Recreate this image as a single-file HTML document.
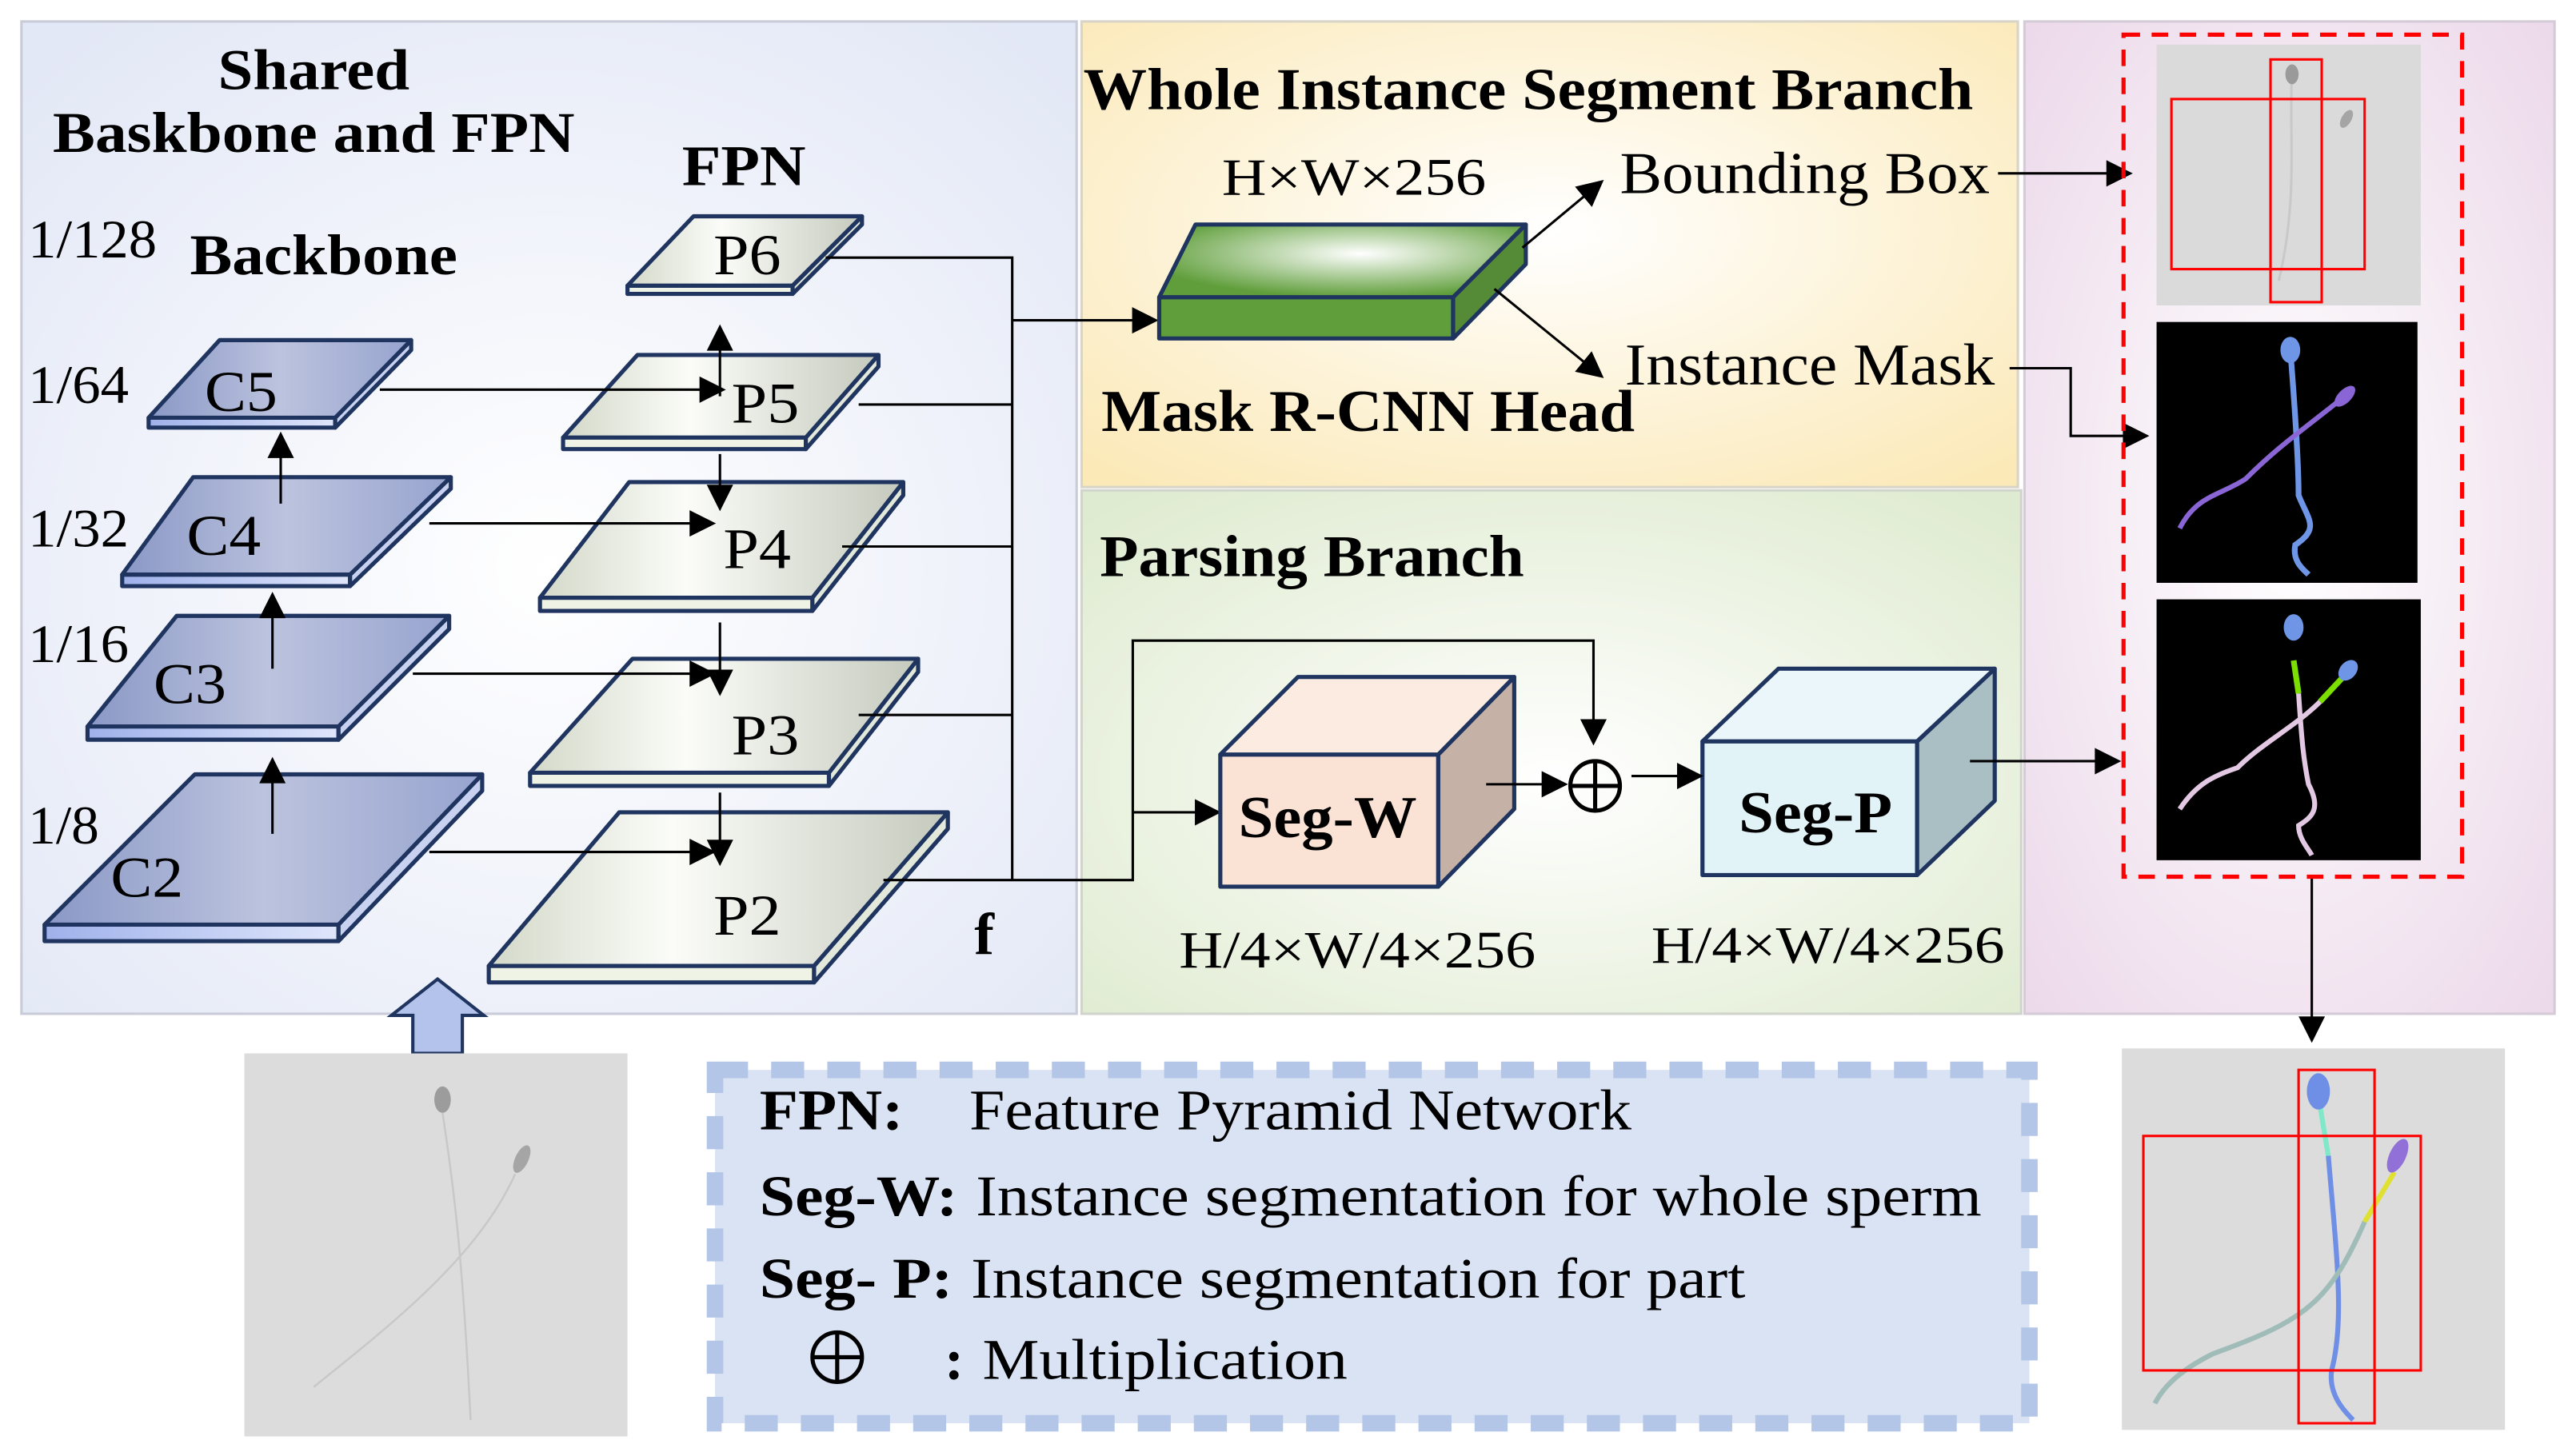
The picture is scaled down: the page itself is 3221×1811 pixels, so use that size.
<!DOCTYPE html>
<html><head><meta charset="utf-8"><style>
html,body{margin:0;padding:0;background:#fff;}
svg{display:block;}
text{font-family:"Liberation Serif",serif;fill:#000;}
.b{font-weight:bold;}
</style></head><body>
<svg width="3221" height="1811" viewBox="0 0 1560 877" preserveAspectRatio="none" xmlns="http://www.w3.org/2000/svg">
<defs>
<radialGradient id="gl" cx="0.5" cy="0.55" r="0.7"><stop offset="0" stop-color="#ffffff"/><stop offset="1" stop-color="#e3e8f6"/></radialGradient>
<radialGradient id="gy" cx="0.5" cy="0.45" r="0.7"><stop offset="0" stop-color="#ffffff"/><stop offset="1" stop-color="#fbe9b8"/></radialGradient>
<radialGradient id="gg" cx="0.5" cy="0.55" r="0.7"><stop offset="0" stop-color="#ffffff"/><stop offset="1" stop-color="#dfebd0"/></radialGradient>
<radialGradient id="gp" cx="0.5" cy="0.5" r="0.7"><stop offset="0" stop-color="#ffffff"/><stop offset="1" stop-color="#ecd9ea"/></radialGradient>
<linearGradient id="gc" x1="0" y1="0" x2="1" y2="0"><stop offset="0" stop-color="#8a98c6"/><stop offset="0.5" stop-color="#bcc3de"/><stop offset="1" stop-color="#97a4cf"/></linearGradient>
<linearGradient id="gcs" x1="0" y1="0" x2="1" y2="0"><stop offset="0" stop-color="#9fb1ea"/><stop offset="1" stop-color="#dfe6fb"/></linearGradient>
<linearGradient id="gpf" x1="0" y1="0" x2="1" y2="0"><stop offset="0" stop-color="#d3d9c9"/><stop offset="0.4" stop-color="#fbfcf8"/><stop offset="1" stop-color="#c5cabd"/></linearGradient>
<radialGradient id="ggr" cx="0.55" cy="0.4" r="0.6"><stop offset="0" stop-color="#ffffff"/><stop offset="1" stop-color="#5f9e3a"/></radialGradient>
<marker id="A" viewBox="0 0 10 10" refX="9" refY="5" markerWidth="18" markerHeight="16" orient="auto" markerUnits="userSpaceOnUse"><path d="M0,0L10,5L0,10z" fill="#000"/></marker>
</defs>

<rect x="13" y="13" width="639" height="601" fill="url(#gl)" stroke="#c9ccd8" stroke-width="1.5"/>
<rect x="655" y="13" width="567" height="282" fill="url(#gy)" stroke="#d8d4c8" stroke-width="1.5"/>
<rect x="655" y="297" width="569" height="317" fill="url(#gg)" stroke="#d0d4cc" stroke-width="1.5"/>
<rect x="1226" y="13" width="321" height="601" fill="url(#gp)" stroke="#d4cbd6" stroke-width="1.5"/>

<g lengthAdjust="spacingAndGlyphs">
<text class="b" x="132" y="54" font-size="35" textLength="116" lengthAdjust="spacingAndGlyphs">Shared</text>
<text class="b" x="32" y="92" font-size="35" textLength="316" lengthAdjust="spacingAndGlyphs">Baskbone and FPN</text>
<text class="b" x="413" y="112" font-size="35" textLength="75" lengthAdjust="spacingAndGlyphs">FPN</text>
<text x="17" y="156" font-size="33" textLength="78" lengthAdjust="spacingAndGlyphs">1/128</text>
<text class="b" x="115" y="166" font-size="35" textLength="162" lengthAdjust="spacingAndGlyphs">Backbone</text>
<text x="17" y="244" font-size="33" textLength="61" lengthAdjust="spacingAndGlyphs">1/64</text>
<text x="17" y="331" font-size="33" textLength="61" lengthAdjust="spacingAndGlyphs">1/32</text>
<text x="17" y="401" font-size="33" textLength="61" lengthAdjust="spacingAndGlyphs">1/16</text>
<text x="17" y="511" font-size="33" textLength="43" lengthAdjust="spacingAndGlyphs">1/8</text>
</g>

<g stroke="#1f3560" stroke-width="2.5" stroke-linejoin="round">
<polygon points="90,253 203,253 203,259 90,259" fill="url(#gcs)"/><polygon points="203,253 249,206 249,212 203,259" fill="#c8d2f0"/><polygon points="90,253 133,206 249,206 203,253" fill="url(#gc)"/>
<polygon points="74,348 212,348 212,355 74,355" fill="url(#gcs)"/><polygon points="212,348 273,289 273,296 212,355" fill="#c8d2f0"/><polygon points="74,348 117,289 273,289 212,348" fill="url(#gc)"/>
<polygon points="53,440 205,440 205,448 53,448" fill="url(#gcs)"/><polygon points="205,440 272,373 272,381 205,448" fill="#c8d2f0"/><polygon points="53,440 107,373 272,373 205,440" fill="url(#gc)"/>
<polygon points="27,560 205,560 205,570 27,570" fill="url(#gcs)"/><polygon points="205,560 292,469 292,479 205,570" fill="#c8d2f0"/><polygon points="27,560 118,469 292,469 205,560" fill="url(#gc)"/>
<polygon points="380,173 480,173 480,178 380,178" fill="#eef3e6"/><polygon points="480,173 522,131 522,136 480,178" fill="#e2e8da"/><polygon points="380,173 420,131 522,131 480,173" fill="url(#gpf)"/>
<polygon points="341,265 488,265 488,272 341,272" fill="#eef3e6"/><polygon points="488,265 532,215 532,222 488,272" fill="#e2e8da"/><polygon points="341,265 386,215 532,215 488,265" fill="url(#gpf)"/>
<polygon points="327,362 492,362 492,370 327,370" fill="#eef3e6"/><polygon points="492,362 547,292 547,300 492,370" fill="#e2e8da"/><polygon points="327,362 381,292 547,292 492,362" fill="url(#gpf)"/>
<polygon points="321,468 502,468 502,476 321,476" fill="#eef3e6"/><polygon points="502,468 556,399 556,407 502,476" fill="#e2e8da"/><polygon points="321,468 383,399 556,399 502,468" fill="url(#gpf)"/>
<polygon points="296,585 493,585 493,595 296,595" fill="#eef3e6"/><polygon points="493,585 574,492 574,502 493,595" fill="#e2e8da"/><polygon points="296,585 375,492 574,492 493,585" fill="url(#gpf)"/>
</g>
<text x="124" y="249" font-size="35" textLength="44" lengthAdjust="spacingAndGlyphs">C5</text>
<text x="113" y="336" font-size="35" textLength="45" lengthAdjust="spacingAndGlyphs">C4</text>
<text x="93" y="426" font-size="35" textLength="44" lengthAdjust="spacingAndGlyphs">C3</text>
<text x="67" y="543" font-size="35" textLength="44" lengthAdjust="spacingAndGlyphs">C2</text>
<text x="432" y="166" font-size="35" textLength="41" lengthAdjust="spacingAndGlyphs">P6</text>
<text x="443" y="256" font-size="35" textLength="41" lengthAdjust="spacingAndGlyphs">P5</text>
<text x="438" y="344" font-size="35" textLength="41" lengthAdjust="spacingAndGlyphs">P4</text>
<text x="443" y="457" font-size="35" textLength="41" lengthAdjust="spacingAndGlyphs">P3</text>
<text x="432" y="566" font-size="35" textLength="41" lengthAdjust="spacingAndGlyphs">P2</text>

<g stroke="#000" stroke-width="1.5" fill="none">
<line x1="170" y1="305" x2="170" y2="263" marker-end="url(#A)"/>
<line x1="165" y1="405" x2="165" y2="360" marker-end="url(#A)"/>
<line x1="165" y1="505" x2="165" y2="460" marker-end="url(#A)"/>
<line x1="230" y1="236" x2="438" y2="236" marker-end="url(#A)"/>
<line x1="260" y1="317" x2="432" y2="317" marker-end="url(#A)"/>
<line x1="250" y1="408" x2="432" y2="408" marker-end="url(#A)"/>
<line x1="260" y1="516" x2="432" y2="516" marker-end="url(#A)"/>
<line x1="436" y1="240" x2="436" y2="198" marker-end="url(#A)"/>
<line x1="436" y1="275" x2="436" y2="308" marker-end="url(#A)"/>
<line x1="436" y1="377" x2="436" y2="420" marker-end="url(#A)"/>
<line x1="436" y1="480" x2="436" y2="523" marker-end="url(#A)"/>
<polyline points="500,156 613,156 613,533"/>
<line x1="520" y1="245" x2="613" y2="245"/>
<line x1="510" y1="331" x2="613" y2="331"/>
<line x1="520" y1="433" x2="613" y2="433"/>
<line x1="613" y1="194" x2="700" y2="194" marker-end="url(#A)"/>
<polyline points="535,533 686,533 686,388 965,388 965,450" marker-end="url(#A)"/>
<line x1="686" y1="492" x2="738" y2="492" marker-end="url(#A)"/>
</g>
<text class="b" x="590" y="578" font-size="36">f</text>

<text class="b" x="656" y="66" font-size="36" textLength="539" lengthAdjust="spacingAndGlyphs">Whole Instance Segment Branch</text>
<text x="740" y="118" font-size="32" textLength="160" lengthAdjust="spacingAndGlyphs">H×W×256</text>
<g stroke="#1f3560" stroke-width="2.5" stroke-linejoin="round">
<polygon points="702,180 880,180 880,205 702,205" fill="#5f9e3a"/>
<polygon points="880,180 924,136 924,160 880,205" fill="#558a37"/>
<polygon points="702,180 724,136 924,136 880,180" fill="url(#ggr)"/>
</g>
<g stroke="#000" stroke-width="1.5" fill="none">
<line x1="922" y1="150" x2="970" y2="110" marker-end="url(#A)"/>
<line x1="905" y1="175" x2="970" y2="228" marker-end="url(#A)"/>
<line x1="1210" y1="105" x2="1290" y2="105" marker-end="url(#A)"/>
<polyline points="1217,223 1254,223 1254,264 1300,264" marker-end="url(#A)"/>
</g>
<text x="981" y="117" font-size="36" textLength="224" lengthAdjust="spacingAndGlyphs">Bounding Box</text>
<text x="984" y="233" font-size="36" textLength="224" lengthAdjust="spacingAndGlyphs">Instance Mask</text>
<text class="b" x="667" y="261" font-size="36" textLength="323" lengthAdjust="spacingAndGlyphs">Mask R-CNN Head</text>

<text class="b" x="666" y="349" font-size="36" textLength="257" lengthAdjust="spacingAndGlyphs">Parsing Branch</text>
<g stroke="#1f3560" stroke-width="2.5" stroke-linejoin="round">
<polygon points="739,457 871,457 871,537 739,537" fill="#fae2d5"/>
<polygon points="871,457 917,410 917,490 871,537" fill="#c6b1a6"/>
<polygon points="739,457 786,410 917,410 871,457" fill="#fcebe1"/>
<polygon points="1031,449 1161,449 1161,530 1031,530" fill="#e2f3f8"/>
<polygon points="1161,449 1208,405 1208,485 1161,530" fill="#aabfc3"/>
<polygon points="1031,449 1077,405 1208,405 1161,449" fill="#eaf6fa"/>
</g>
<text class="b" x="750" y="507" font-size="36" textLength="108" lengthAdjust="spacingAndGlyphs">Seg-W</text>
<text class="b" x="1053" y="504" font-size="36" textLength="93" lengthAdjust="spacingAndGlyphs">Seg-P</text>
<g stroke="#000" stroke-width="1.5" fill="none">
<line x1="900" y1="475" x2="948" y2="475" marker-end="url(#A)"/>
<circle cx="966" cy="476" r="15" stroke-width="2.5"/>
<line x1="951" y1="476" x2="981" y2="476" stroke-width="2.5"/>
<line x1="966" y1="461" x2="966" y2="491" stroke-width="2.5"/>
<line x1="988" y1="470" x2="1030" y2="470" marker-end="url(#A)"/>
<line x1="1193" y1="461" x2="1283" y2="461" marker-end="url(#A)"/>
<line x1="1400" y1="531" x2="1400" y2="630" marker-end="url(#A)"/>
</g>
<text x="714" y="586" font-size="32" textLength="216" lengthAdjust="spacingAndGlyphs">H/4×W/4×256</text>
<text x="1000" y="583" font-size="32" textLength="214" lengthAdjust="spacingAndGlyphs">H/4×W/4×256</text>

<rect x="1306" y="27" width="160" height="158" fill="#dadada"/>
<path d="M1388,45 C1386,80 1392,120 1380,170" stroke="#c9c9c9" stroke-width="1.5" fill="none"/>
<ellipse cx="1388" cy="45" rx="4" ry="6" fill="#9a9a9a"/>
<ellipse cx="1421" cy="72" rx="3" ry="6" fill="#a5a5a5" transform="rotate(30 1421 72)"/>
<rect x="1315" y="60" width="117" height="103" fill="none" stroke="#f00" stroke-width="1.5"/>
<rect x="1375" y="36" width="31" height="147" fill="none" stroke="#f00" stroke-width="1.5"/>
<rect x="1306" y="195" width="158" height="158" fill="#000"/>
<path d="M1387,212 C1390,250 1392,280 1392,300 C1398,315 1405,320 1390,330 C1388,340 1395,345 1398,348" stroke="#6f95e6" stroke-width="3.5" fill="none"/>
<ellipse cx="1387" cy="212" rx="6" ry="8" fill="#6f95e6"/>
<path d="M1420,240 C1395,260 1380,270 1360,290 C1345,300 1330,300 1320,320" stroke="#8a65d6" stroke-width="3" fill="none"/>
<ellipse cx="1420" cy="240" rx="4" ry="8" fill="#8a65d6" transform="rotate(45 1420 240)"/>
<rect x="1306" y="363" width="160" height="158" fill="#000"/>
<path d="M1389,400 L1392,420" stroke="#7be000" stroke-width="3.5"/>
<path d="M1392,420 C1394,450 1395,460 1398,475 C1406,490 1400,495 1392,500 C1392,508 1398,514 1400,518" stroke="#e3c8e3" stroke-width="3" fill="none"/>
<path d="M1419,410 L1405,425" stroke="#7be000" stroke-width="3.5"/>
<path d="M1405,425 C1390,440 1370,450 1355,465 C1340,470 1330,475 1320,490" stroke="#e3c8e3" stroke-width="3" fill="none"/>
<ellipse cx="1389" cy="380" rx="6" ry="8" fill="#6f95e6"/>
<ellipse cx="1422" cy="406" rx="5" ry="7" fill="#6f95e6" transform="rotate(40 1422 406)"/>
<rect x="1286" y="21" width="205" height="510" fill="none" stroke="#f00" stroke-width="2.5" stroke-dasharray="10,7"/>

<polygon points="237,615 265,593 293,615 280,615 280,638 250,638 250,615" fill="#b3c3ec" stroke="#1f3560" stroke-width="2"/>
<rect x="148" y="638" width="232" height="232" fill="#dcdcdc"/>
<ellipse cx="268" cy="666" rx="5" ry="8" fill="#9c9c9c"/>
<ellipse cx="316" cy="702" rx="4" ry="9" fill="#a5a5a5" transform="rotate(25 316 702)"/>
<path d="M268,674 C275,720 280,760 285,860 M312,711 C290,760 240,800 190,840" stroke="#c8c8c8" stroke-width="1.2" fill="none"/>
<rect x="433" y="648" width="796" height="214" fill="#dae3f3" stroke="#b4c6e7" stroke-width="10" stroke-dasharray="20,14"/>
<text class="b" x="460" y="684" font-size="35" textLength="87" lengthAdjust="spacingAndGlyphs">FPN:</text>
<text x="587" y="684" font-size="35" textLength="401" lengthAdjust="spacingAndGlyphs">Feature Pyramid Network</text>
<text class="b" x="460" y="736" font-size="35" textLength="120" lengthAdjust="spacingAndGlyphs">Seg-W:</text>
<text x="591" y="736" font-size="35" textLength="609" lengthAdjust="spacingAndGlyphs">Instance segmentation for whole sperm</text>
<text class="b" x="460" y="786" font-size="35" textLength="117" lengthAdjust="spacingAndGlyphs">Seg- P:</text>
<text x="588" y="786" font-size="35" textLength="469" lengthAdjust="spacingAndGlyphs">Instance segmentation for part</text>
<g stroke="#000" stroke-width="2.5" fill="none"><circle cx="507" cy="822" r="15"/><line x1="492" y1="822" x2="522" y2="822"/><line x1="507" y1="807" x2="507" y2="837"/></g>
<text class="b" x="572" y="835" font-size="35">:</text>
<text x="595" y="835" font-size="35" textLength="221" lengthAdjust="spacingAndGlyphs">Multiplication</text>

<rect x="1285" y="635" width="232" height="231" fill="#dcdcdc"/>
<path d="M1405,670 L1410,700" stroke="#7fe8c8" stroke-width="3"/>
<path d="M1410,700 C1415,760 1420,800 1412,830 C1410,845 1420,855 1425,860" stroke="#6f8fe6" stroke-width="3" fill="none"/>
<ellipse cx="1404" cy="661" rx="7" ry="11" fill="#6f8fe6"/>
<path d="M1450,710 L1432,740" stroke="#e0e030" stroke-width="3"/>
<path d="M1432,740 C1410,790 1395,800 1340,820 C1320,830 1310,840 1305,850" stroke="#9fbcb8" stroke-width="3" fill="none"/>
<ellipse cx="1452" cy="700" rx="5" ry="11" fill="#9170d8" transform="rotate(25 1452 700)"/>
<rect x="1298" y="688" width="168" height="142" fill="none" stroke="#f00" stroke-width="1.5"/>
<rect x="1392" y="648" width="46" height="214" fill="none" stroke="#f00" stroke-width="1.5"/>
</svg>
</body></html>
